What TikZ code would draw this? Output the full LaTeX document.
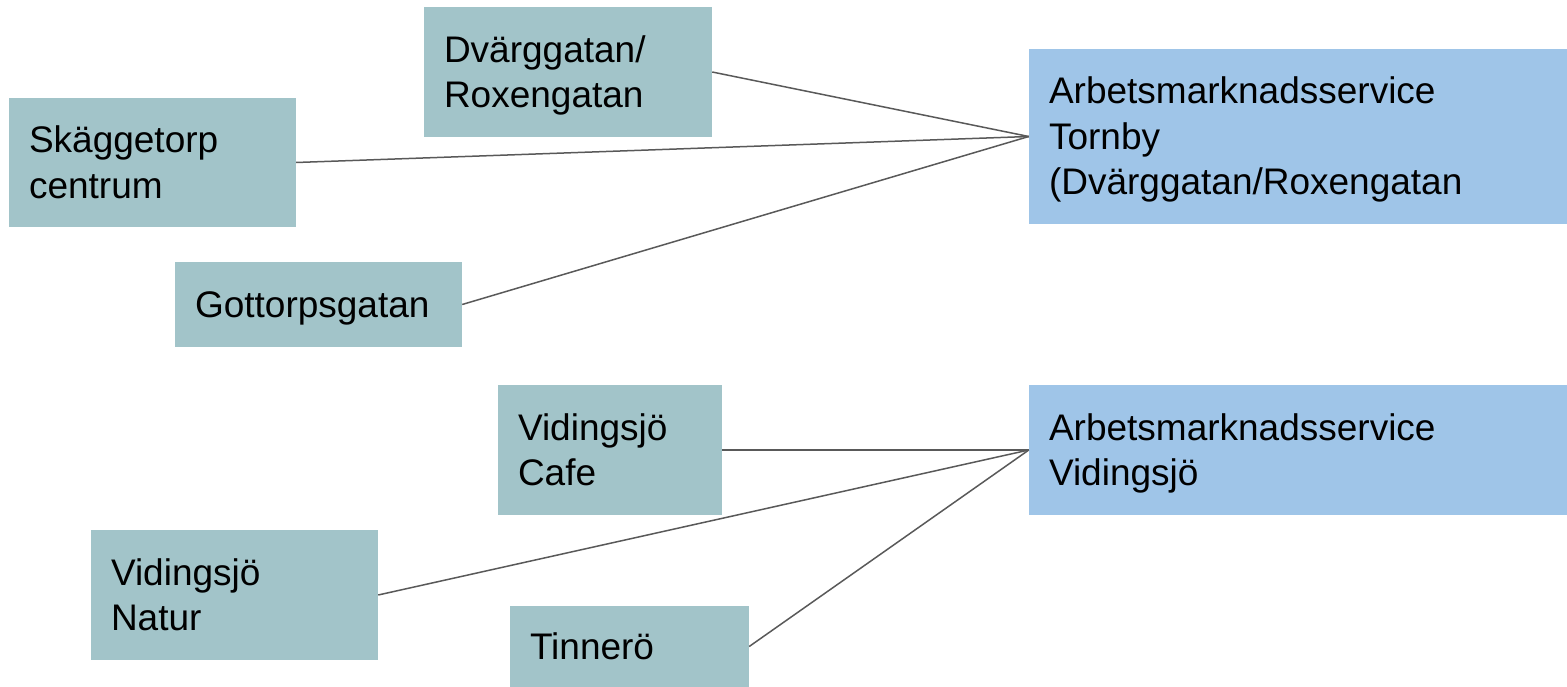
\documentclass[tikz,border=0pt]{standalone}
\usepackage{fontspec}
\setmainfont{Liberation Sans}
\usetikzlibrary{positioning}
\definecolor{stopcol}{HTML}{A2C4C9}
\definecolor{officecol}{HTML}{9FC5E8}
\definecolor{linkcol}{HTML}{595959}
\newcommand{\linestrut}{\rule[-0.212em]{0pt}{1.117em}}
\tikzset{
  stop/.style={rectangle,fill=stopcol,inner xsep=20pt,inner ysep=0pt,align=left,
    font=\fontsize{37}{45.5}\selectfont,
    execute at begin node=\linestrut,execute at end node=\linestrut},
  office/.style={stop,fill=officecol},
  link/.style={-,linkcol,line width=1.5pt}
}
\begin{document}
\begin{tikzpicture}[x=1pt,y=-1pt]
\useasboundingbox (0,0) rectangle (1567,687);
% stops, upper group
\node [stop,minimum width=288,minimum height=130,text width=248pt] (dvarg) at (568,72) {Dvärggatan/\\Roxengatan};
\node [stop,minimum width=287,minimum height=129,text width=247pt] (skagg) at (152.5,162.5) {Skäggetorp\\centrum};
\node [stop,minimum width=287,minimum height=85,text width=247pt] (gott) at (318.5,304.5) {Gottorpsgatan};
\node [office,minimum width=538,minimum height=175,text width=498pt] (tornby) at (1298,136.5) {Arbetsmarknadsservice\\Tornby\\(Dvärggatan/Roxengatan};
% stops, lower group
\node [stop,minimum width=224,minimum height=130,text width=184pt] (cafe) at (610,450) {Vidingsjö\\Cafe};
\node [stop,minimum width=287,minimum height=130,text width=247pt] (natur) at (234.5,595) {Vidingsjö\\Natur};
\node [stop,minimum width=239,minimum height=81,text width=199pt] (tinn) at (629.5,646.5) {Tinnerö};
\node [office,minimum width=538,minimum height=130,text width=498pt] (vid) at (1298,450) {Arbetsmarknadsservice\\Vidingsjö};
% links
\draw [link] (dvarg.east) -- (tornby.west);
\draw [link] (skagg.east) -- (tornby.west);
\draw [link] (gott.east) -- (tornby.west);
\draw [link] (cafe.east) -- (vid.west);
\draw [link] (natur.east) -- (vid.west);
\draw [link] (tinn.east) -- (vid.west);
\end{tikzpicture}
\end{document}
